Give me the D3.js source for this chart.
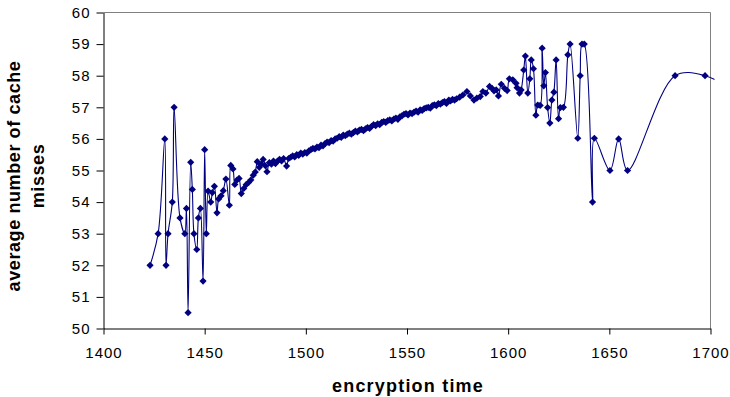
<!DOCTYPE html>
<html>
<head>
<meta charset="utf-8">
<script src="https://cdn.jsdelivr.net/npm/d3@7"></script>
<style>
  html, body { margin: 0; padding: 0; background: #fff; }
  svg { display: block; font-family: "Liberation Sans", Arial, sans-serif; }
</style>
</head>
<body>
<div id="chart"></div>
<script>
// encryption time (x)
const times = [
  1423, 1427, 1430.3, 1430.9, 1431.9, 1434.0, 1434.9, 1437.8, 1440.2, 1441.0,
  1441.8, 1443.1, 1443.9, 1444.7, 1446.1, 1446.9, 1447.9, 1449.2, 1450.0, 1450.8,
  1451.7, 1453.0, 1453.8, 1454.8, 1456.1, 1456.9, 1458.1, 1459.2, 1460.5, 1462.2,
  1462.9, 1464.0, 1464.9, 1466.0, 1467.0, 1468.1, 1469.3, 1470.5, 1471.7, 1472.8,
  1474.0, 1475.0, 1476.0, 1477.0, 1478.0, 1478.9, 1480.0, 1480.8, 1482.0, 1483.0,
  1484.0, 1485.0, 1486.0, 1487.0, 1488.0, 1489.0, 1490.5, 1491.5, 1492.5, 1493.5,
  1494.5, 1495.5, 1496.5, 1497.5, 1498.5, 1499.5, 1500.5, 1501.5, 1502.5, 1503.5,
  1504.5, 1505.5, 1506.5, 1507.5, 1508.5, 1509.5, 1510.5, 1511.5, 1512.5, 1513.5,
  1514.5, 1515.5, 1516.5, 1517.5, 1518.5, 1519.5, 1520.5, 1521.5, 1522.5, 1523.5,
  1524.5, 1525.5, 1526.5, 1527.5, 1528.5, 1529.5, 1530.5, 1531.5, 1532.5, 1533.5,
  1534.5, 1535.5, 1536.5, 1537.5, 1538.5, 1539.5, 1540.5, 1541.5, 1542.5, 1543.5,
  1544.5, 1545.5, 1546.5, 1547.5, 1548.5, 1549.5, 1550.5, 1551.5, 1552.5, 1553.5,
  1554.5, 1555.5, 1556.5, 1557.5, 1558.5, 1559.5, 1560.5, 1561.5, 1562.5, 1563.5,
  1564.5, 1565.5, 1566.5, 1567.5, 1568.5, 1569.5, 1570.7, 1571.5, 1572.5, 1573.5,
  1574.5, 1576.0, 1577.6, 1579.6, 1581.3, 1583.1, 1584.5, 1586.2, 1587.5, 1589.0,
  1590.8, 1592.0, 1593.0, 1594.1, 1595.2, 1596.6, 1598.2, 1599.5, 1600.6, 1602.3,
  1603.9, 1604.4, 1605.6, 1606.4, 1607.7, 1608.5, 1609.7, 1610.7, 1611.4, 1612.5,
  1613.7, 1614.6, 1615.8, 1616.8, 1617.6, 1618.4, 1619.5, 1620.6, 1621.6, 1622.6,
  1623.7, 1624.9, 1625.8, 1627.3, 1629.5, 1630.6, 1634.4, 1635.6, 1636.5, 1637.6,
  1641.7, 1642.6, 1650.3, 1654.6, 1659.0, 1682.5, 1697.3, 1712
];

// average number of cache misses (y)
const misses = [
  52.0, 53.0, 56.0, 52.0, 53.0, 54.0, 57.0, 53.5, 53.0, 53.8,
  50.5, 55.26, 54.4, 53.0, 52.5, 53.5, 53.8, 51.5, 55.66, 53.0,
  54.35, 54.0, 54.3, 54.5, 53.66, 54.1, 54.2, 54.36, 54.73, 53.9,
  55.16, 55.05, 54.56, 54.7, 54.75, 54.27, 54.43, 54.55, 54.62, 54.7,
  54.85, 54.95, 55.28, 55.1, 55.2, 55.35, 55.15, 54.96, 55.25, 55.2,
  55.3, 55.22, 55.3, 55.35, 55.3, 55.38, 55.14, 55.38, 55.42, 55.46,
  55.43, 55.5, 55.48, 55.55, 55.52, 55.57, 55.55, 55.62, 55.66, 55.7,
  55.68, 55.74, 55.72, 55.8, 55.78, 55.85, 55.9, 55.88, 55.95, 55.93,
  56.0, 56.02, 56.07, 56.05, 56.12, 56.1, 56.15, 56.18, 56.15, 56.2,
  56.25, 56.22, 56.28, 56.3, 56.26, 56.32, 56.36, 56.33, 56.4, 56.45,
  56.42, 56.48, 56.45, 56.52, 56.55, 56.52, 56.58, 56.6, 56.57, 56.63,
  56.66, 56.62, 56.7, 56.73, 56.78, 56.8, 56.76, 56.82, 56.8, 56.85,
  56.88, 56.85, 56.92, 56.9, 56.96, 56.98, 57.0, 56.97, 57.05, 57.08,
  57.05, 57.12, 57.1, 57.15, 57.18, 57.12, 57.23, 57.2, 57.25, 57.23,
  57.27, 57.32, 57.39, 57.5, 57.36, 57.23, 57.29, 57.34, 57.5, 57.45,
  57.66, 57.6, 57.52, 57.55, 57.36, 57.73, 57.6, 57.53, 57.9, 57.87,
  57.76, 57.62, 57.45, 57.55, 58.18, 58.62, 57.45, 57.9, 58.5, 58.22,
  56.75, 57.07, 57.06, 58.87, 57.68, 58.1, 56.99, 56.5, 57.23, 57.48,
  58.5, 56.64, 56.99, 57.0, 58.66, 59.0, 56.02, 58.0, 59.0, 59.0,
  54.0, 56.02, 55.0, 56.0, 55.0, 58.0, 58.0, 57.5
];

const xTicks = [1400, 1450, 1500, 1550, 1600, 1650, 1700];
const yTicks = [50, 51, 52, 53, 54, 55, 56, 57, 58, 59, 60];

const width = 730;
const height = 397;
const plot = { left: 103.5, right: 710.5, top: 12.5, bottom: 328.5 };

const data = times.map((t, i) => ({ x: t, y: misses[i] }));

const svg = d3.select('#chart')
  .append('svg')
    .attr('width', width)
    .attr('height', height);

const x = d3.scaleLinear()
  .domain([1400, 1700])
  .range([plot.left, plot.right]);

const y = d3.scaleLinear()
  .domain([50, 60])
  .range([plot.bottom, plot.top]);

// plot area frame (grey top and right)
svg.append('path')
  .attr('d', `M${plot.left},${plot.top}H${plot.right}V${plot.bottom}`)
  .attr('fill', 'none')
  .attr('stroke', '#808080')
  .attr('stroke-width', 1);

// clip the smoothed line a little past the right edge, like the original
svg.append('clipPath')
  .attr('id', 'clip')
  .append('rect')
    .attr('x', plot.left)
    .attr('y', 0)
    .attr('width', plot.right - plot.left + 4)
    .attr('height', plot.bottom);

svg.append('path')
  .datum(data)
  .attr('clip-path', 'url(#clip)')
  .attr('fill', 'none')
  .attr('stroke', '#000080')
  .attr('stroke-width', 1.1)
  .attr('d', d3.line()
    .x((d) => x(d.x))
    .y((d) => y(d.y))
    .curve(d3.curveCatmullRom.alpha(0.5))
  );

// diamond markers
svg.append('g')
  .selectAll('path')
  .data(data.filter((d) => d.x <= 1700))
  .join('path')
    .attr('transform', (d) => `translate(${x(d.x)},${y(d.y)})`)
    .attr('d', 'M0,-3.6L3.6,0L0,3.6L-3.6,0Z')
    .attr('fill', '#000080');

// X axis
const xAxis = svg.append('g')
  .attr('transform', `translate(0,${plot.bottom})`)
  .call(d3.axisBottom(x).tickValues(xTicks).tickFormat(d3.format('d'))
    .tickSize(6).tickSizeOuter(0).tickPadding(13));
xAxis.select('.domain').attr('stroke', '#000');
xAxis.selectAll('line').attr('stroke', '#000');
xAxis.selectAll('text')
  .attr('font-size', 15)
  .attr('letter-spacing', 1)
  .attr('fill', '#000')
  .attr('font-family', '"Liberation Sans", Arial, sans-serif');

// Y axis
const yAxis = svg.append('g')
  .attr('transform', `translate(${plot.left},0)`)
  .call(d3.axisLeft(y).tickValues(yTicks).tickFormat(d3.format('d'))
    .tickSize(7).tickSizeOuter(0).tickPadding(6));
yAxis.select('.domain').attr('stroke', '#000');
yAxis.selectAll('line').attr('stroke', '#000');
yAxis.selectAll('text')
  .attr('font-size', 15)
  .attr('letter-spacing', 1)
  .attr('fill', '#000')
  .attr('font-family', '"Liberation Sans", Arial, sans-serif');

// axis titles
svg.append('text')
  .attr('x', 408)
  .attr('y', 392)
  .attr('text-anchor', 'middle')
  .attr('font-size', 18)
  .attr('font-weight', 'bold')
  .attr('letter-spacing', 1.2)
  .text('encryption time');

const yTitle = svg.append('text')
  .attr('transform', 'translate(0,176) rotate(-90)')
  .attr('text-anchor', 'middle')
  .attr('font-size', 18)
  .attr('font-weight', 'bold')
  .attr('letter-spacing', 0.6);
yTitle.append('tspan').attr('x', 0).attr('y', 20).text('average number of cache');
yTitle.append('tspan').attr('x', 0).attr('y', 44).text('misses');
</script>
</body>
</html>
